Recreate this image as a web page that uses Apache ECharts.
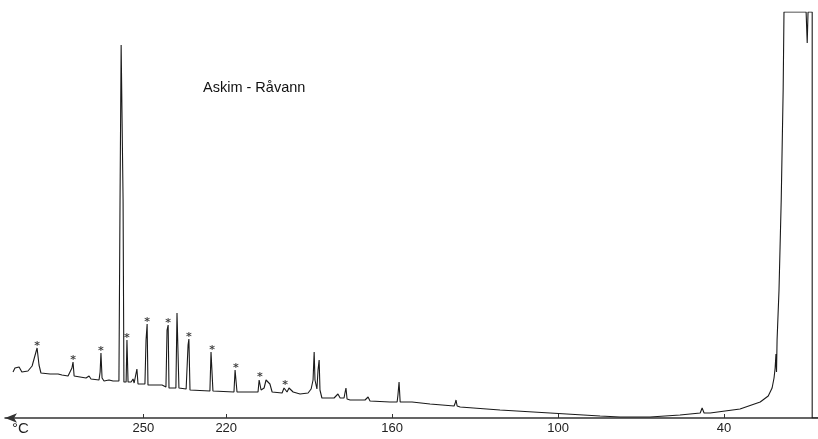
<!DOCTYPE html>
<html>
<head>
<meta charset="utf-8">
<script src="https://cdn.jsdelivr.net/npm/echarts@6/dist/echarts.min.js"></script>
<style>
html,body{margin:0;padding:0;background:#fff;}
#chart{width:818px;height:439px;}
</style>
</head>
<body>
<div id="chart"></div>
<script>
// Temperature (°C) along the recorder trace, left (hot) to right (cold)
const temps = [297.1,296.4,295.7,294.9,293.9,291.7,290.2,289.2,288.4,287.7,287.0,283.7,280.8,280.1,279.4,277.2,276.5,275.8,275.4,275.0,274.3,270.7,269.6,268.9,266.0,265.6,265.3,264.9,264.2,262.4,261.7,260.9,258.8,258.4,258.0,257.7,257.3,257.0,256.2,255.9,255.5,254.4,253.7,253.3,252.6,252.3,251.9,249.4,249.0,248.6,248.3,246.8,246.1,245.4,243.2,242.9,242.5,241.8,241.4,241.0,240.7,238.2,237.8,237.4,237.1,234.5,233.8,233.5,233.1,225.9,225.5,225.1,224.8,217.2,216.8,216.5,216.1,208.5,208.1,207.8,207.4,206.3,205.6,204.9,204.2,203.4,199.8,199.1,198.7,198.0,197.3,196.6,195.8,193.3,190.4,189.3,188.6,188.2,187.9,187.2,186.8,186.4,186.1,185.4,181.0,179.6,178.8,177.4,177.0,176.7,176.3,175.2,169.8,168.7,168.0,160.8,158.2,157.9,157.5,157.1,156.4,152.8,152.1,146.3,137.6,137.2,136.9,136.5,135.4,121.0,102.9,84.8,77.6,66.7,55.9,48.6,47.9,47.6,47.2,45.0,34.2,26.9,24.0,22.6,21.9,21.5,21.2,21.0,20.8,20.1,19.3,18.6,18.3,10.3,9.9,9.6,8.1,8.1,6.0];
// Detector signal (arbitrary recorder units)
const signal = [46,50,48,51,46,47,52,62,70,53,45,44,44,46,43,42,44,50,56,42,40,40,42,39,38,46,65,40,37,38,40,37,37,218,373,373,218,36,36,78,36,36,39,35,35,49,34,34,78,94,33,33,35,33,33,35,32,31,88,93,30,30,105,105,30,29,73,79,28,27,66,66,27,26,48,48,26,26,38,39,28,30,38,40,34,26,25,30,31,26,30,32,26,24,25,29,38,66,38,29,48,58,28,20,20,24,20,20,26,30,19,18,18,21,17,16,16,23,36,16,15,16,15,14,12,15,18,12,11,8,5,2,1,1,3,5,10,12,5,5,9,16,22,30,40,50,64,46,78,128,218,328,406,406,375,406,406,0,0];
// Peaks marked with an asterisk
const markedTemps = [288.4,275.4,265.3,255.9,248.6,241.0,233.5,225.1,216.5,207.8,198.7];
const markedSignal = [70,56,65,78,94,93,79,66,48,39,31];
// Axis tick labels
const tickTemps = [250,220,160,100,40];
const titleText = 'Askim - Råvann';
const unitText = '°C';

const trace = temps.map((t,i)=>[t, signal[i]]);
const marks = markedTemps.map((t,i)=>[t, markedSignal[i]]);

const chart = echarts.init(document.getElementById('chart'));
chart.setOption({
  backgroundColor:'#ffffff',
  animation:false,
  title:{text:titleText,left:198,top:75,textStyle:{fontFamily:'Liberation Sans',fontSize:14.5,fontWeight:'normal',color:'#111'}},
  grid:{left:5,right:0,top:12,bottom:21},
  xAxis:{
    type:'value',inverse:true,min:6,max:300,
    axisLine:{show:true,symbol:['arrow','none'],symbolSize:[7,12],lineStyle:{color:'#333',width:1.5}},
    axisTick:{show:true,inside:true,length:4,customValues:tickTemps,lineStyle:{color:'#333'}},
    axisLabel:{show:true,customValues:tickTemps,margin:4,fontFamily:'Liberation Sans',fontSize:13,color:'#222'},
    splitLine:{show:false}
  },
  yAxis:{type:'value',min:0,max:406,show:false,splitLine:{show:false}},
  graphic:[{type:'text',left:12,top:421,style:{text:unitText,font:'15px "Liberation Sans"',fill:'#222'}}],
  series:[
    {type:'line',data:trace,showSymbol:false,symbol:'none',lineStyle:{color:'#1a1a1a',width:1.1},silent:true},
    {type:'scatter',data:marks,symbolSize:0,silent:true,
     label:{show:true,formatter:'*',position:'top',distance:-4,fontSize:11,fontWeight:'bold',color:'#111',fontFamily:'DejaVu Sans'}}
  ]
});
</script>
</body>
</html>
